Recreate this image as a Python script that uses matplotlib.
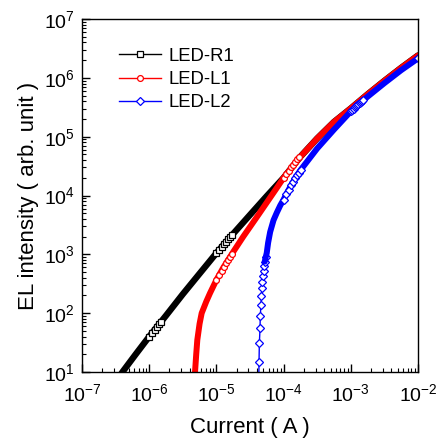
import numpy as np
import matplotlib
matplotlib.use("Agg")
import matplotlib.pyplot as plt
from matplotlib.lines import Line2D
from matplotlib.ticker import LogLocator, FuncFormatter, NullFormatter

plt.rcParams['font.family'] = ['Liberation Sans', 'DejaVu Sans']
plt.rcParams['mathtext.default'] = 'regular'

# LED-R1 (black, squares)
r1_current = [3.6e-7, 4.0e-7, 6.3e-7, 1.0e-6, 1.78e-6, 3.16e-6, 5.62e-6, 1.0e-5, 1.78e-5,
              3.16e-5, 5.62e-5, 1.0e-4, 1.78e-4, 3.16e-4, 5.62e-4, 1.0e-3, 1.78e-3,
              3.16e-3, 5.62e-3, 1.0e-2]
r1_el = [8.3, 10, 20, 40, 91, 210, 470, 1050, 2240,
         4680, 9770, 2.0e4, 4.57e4, 9.33e4, 1.78e5, 3.02e5, 5.25e5,
         8.9e5, 1.48e6, 2.4e6]
r1_mark_current = [1.0e-6, 1.1e-6, 1.2e-6, 1.3e-6, 1.4e-6, 1.5e-6,
                   1.0e-5, 1.1e-5, 1.2e-5, 1.3e-5, 1.4e-5, 1.5e-5, 1.6e-5, 1.7e-5]
r1_mark_el = [40, 45.7, 51.9, 58.2, 64.9, 71.6,
              1050, 1190, 1330, 1480, 1630, 1790, 1950, 2110]

# LED-L1 (red, circles)
l1_current = [4.68e-6, 4.81e-6, 5.01e-6, 5.2e-6, 5.62e-6, 6.04e-6, 7.08e-6, 8.04e-6,
              1.0e-5, 1.26e-5, 1.78e-5, 2.51e-5, 3.98e-5, 5.62e-5, 7.94e-5, 1.0e-4,
              1.78e-4, 3.16e-4, 5.62e-4, 1.0e-3, 1.78e-3, 3.16e-3, 5.62e-3, 1.0e-2]
l1_el = [6.3, 10, 20, 35, 66, 100, 158, 219,
         367, 589, 1100, 2000, 4270, 7590, 1.35e4, 2.0e4,
         4.57e4, 9.33e4, 1.78e5, 3.02e5, 5.25e5, 8.9e5, 1.48e6, 2.4e6]
l1_mark_current = [1.0e-5, 1.1e-5, 1.2e-5, 1.3e-5, 1.4e-5, 1.5e-5, 1.6e-5, 1.7e-5,
                   1.0e-4, 1.1e-4, 1.2e-4, 1.3e-4, 1.4e-4, 1.5e-4, 1.6e-4, 1.7e-4]
l1_mark_el = [367, 443, 523, 608, 700, 795, 895, 1000,
              2.0e4, 2.31e4, 2.65e4, 3.0e4, 3.36e4, 3.74e4, 4.14e4, 4.55e4]

# LED-L2 (blue, diamonds)
l2_current = [4.25e-5, 4.31e-5, 4.36e-5, 4.46e-5, 4.5e-5, 4.61e-5, 4.66e-5, 4.78e-5,
              4.82e-5, 4.93e-5, 5.06e-5, 5.11e-5, 5.24e-5, 5.42e-5, 5.61e-5, 5.89e-5,
              6.31e-5, 7.08e-5, 7.94e-5, 8.91e-5, 1.0e-4, 1.12e-4, 1.26e-4, 1.48e-4,
              1.78e-4, 3.16e-4, 5.62e-4, 1.0e-3, 1.78e-3, 3.16e-3, 5.62e-3, 1.0e-2]
l2_el = [5, 15, 31, 55, 91, 138, 199, 265,
         344, 430, 528, 635, 752, 893, 1050, 1580,
         2400, 3800, 5130, 6760, 8510, 1.1e4, 1.41e4, 1.95e4,
         2.69e4, 6.3e4, 1.32e5, 2.69e5, 4.79e5, 8.13e5, 1.35e6, 2.14e6]
l2_mark_current = [1.0e-4, 1.1e-4, 1.2e-4, 1.3e-4, 1.4e-4, 1.5e-4, 1.6e-4, 1.7e-4, 1.8e-4,
                   1.0e-3, 1.05e-3, 1.1e-3, 1.15e-3, 1.2e-3, 1.25e-3, 1.3e-3, 1.35e-3,
                   1.4e-3, 1.45e-3, 1.5e-3, 1.0e-2]
l2_mark_el = [8510, 1.05e4, 1.26e4, 1.48e4, 1.71e4, 1.95e4, 2.2e4, 2.45e4, 2.7e4,
              2.69e5, 2.84e5, 2.99e5, 3.14e5, 3.29e5, 3.44e5, 3.59e5, 3.75e5,
              3.9e5, 4.05e5, 4.21e5, 2.14e6]

labels = ['LED-R1', 'LED-L1', 'LED-L2']
colors = ['#000000', '#ff0000', '#0000ff']
markers = ['s', 'o', 'D']
msizes = [3.8, 4.2, 3.6]

fig = plt.figure(figsize=(4.38, 4.38), dpi=100)
ax = fig.add_axes([0.1872, 0.1507, 0.7671, 0.8059])

# LED-R1
ax.plot(r1_current, r1_el, color=colors[0], lw=4.6, solid_capstyle='round')
ax.plot(r1_mark_current, r1_mark_el, ls='none', marker='s', ms=3.8, mfc='white',
        mec=colors[0], mew=0.9)

# LED-L1
ax.plot(l1_current, l1_el, color=colors[1], lw=4.3, solid_capstyle='round')
ax.plot(l1_mark_current, l1_mark_el, ls='none', marker='o', ms=4.2, mfc='white',
        mec=colors[1], mew=0.9)

# LED-L2: sparse diamonds near threshold, then a dense band
ax.plot(l2_current, l2_el, color=colors[2], lw=1.0, marker='D', ms=3.6, mfc='white',
        mec=colors[2], mew=0.9, markevery=list(range(1, 14)))
ax.plot(l2_current[12:], l2_el[12:], color=colors[2], lw=4.3, solid_capstyle='round')
ax.plot(l2_mark_current, l2_mark_el, ls='none', marker='D', ms=3.6, mfc='white',
        mec=colors[2], mew=0.9)

ax.set_xscale('log')
ax.set_yscale('log')
ax.set_xlim(1e-7, 1e-2)
ax.set_ylim(1e1, 1e7)

fmt = FuncFormatter(lambda v, p: r'$10^{%d}$' % int(round(np.log10(v))))
for axis in (ax.xaxis, ax.yaxis):
    axis.set_major_locator(LogLocator(base=10, numticks=12))
    axis.set_minor_locator(LogLocator(base=10, subs=np.arange(2, 10), numticks=12))
    axis.set_major_formatter(fmt)
    axis.set_minor_formatter(NullFormatter())

ax.tick_params(which='both', direction='in', top=False, right=False, labelsize=14)
ax.tick_params(axis='x', pad=8)
ax.tick_params(axis='y', pad=5)
ax.tick_params(which='major', length=6, width=1.0)
ax.tick_params(which='minor', length=3, width=0.8)
for s in ax.spines.values():
    s.set_linewidth(1.0)

ax.set_xlabel('Current ( A )', fontsize=16)
ax.set_ylabel('EL intensity ( arb. unit )', fontsize=16)
ax.xaxis.set_label_coords(0.5, -0.128)
ax.yaxis.set_label_coords(-0.128, 0.5)

handles = [Line2D([0], [0], color=c, lw=1.0, marker=m, ms=ms, mfc='white', mec=c, mew=0.9)
           for c, m, ms in zip(colors, markers, msizes)]
ax.legend(handles, labels, loc='upper left', bbox_to_anchor=(0.11, 0.918), frameon=False,
          fontsize=13.3, handlelength=2.3, handletextpad=0.4, labelspacing=0.33,
          borderpad=0, borderaxespad=0)

fig.savefig('out.png', dpi=100)
